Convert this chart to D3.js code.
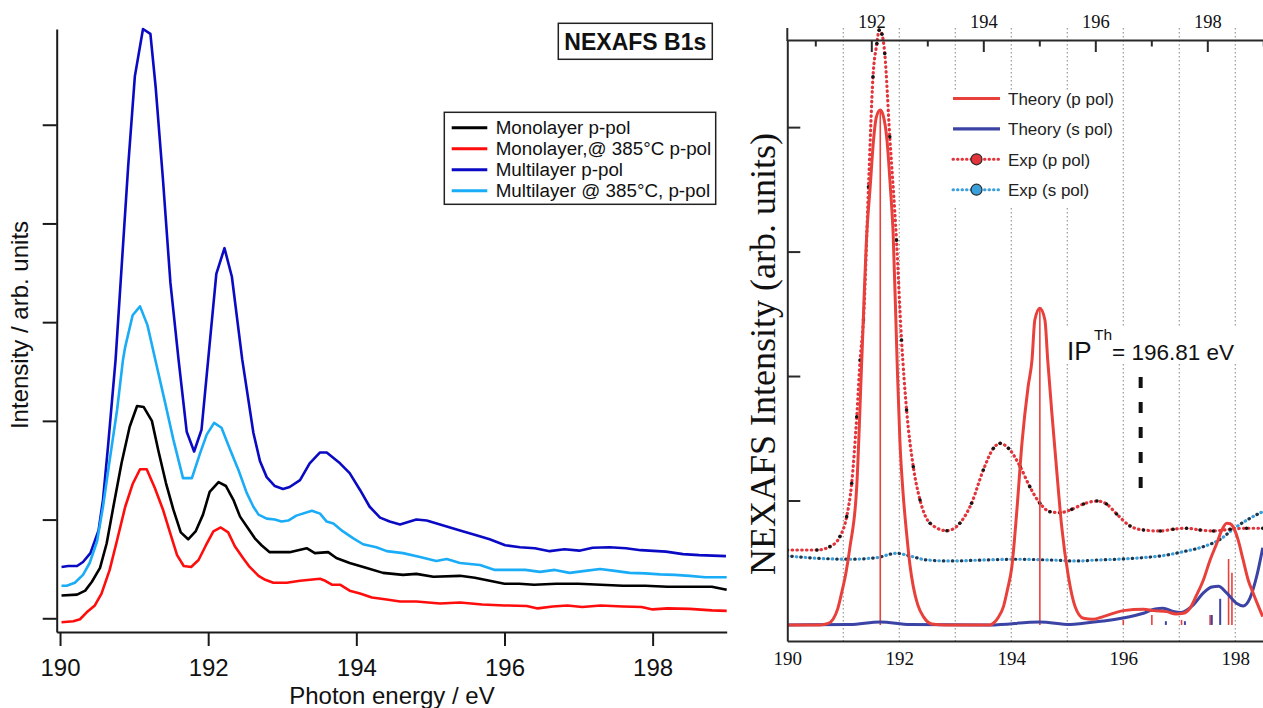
<!DOCTYPE html>
<html>
<head>
<meta charset="utf-8">
<script src="https://cdn.jsdelivr.net/npm/d3@7"></script>
<style>
  html, body { margin: 0; padding: 0; background: #fff; }
  svg { display: block; }
</style>
</head>
<body>
<svg id="chart" width="1263" height="708"></svg>
<script>
// ---------- left panel data: [photon energy (eV), intensity (arb.)] ----------
var monolayerPpol = [[190.02,0.23],[190.23,0.24],[190.34,0.28],[190.43,0.37],[190.54,0.51],[190.63,0.76],[190.72,1.13],[190.83,1.57],[190.94,1.94],[191.04,2.15],[191.13,2.14],[191.24,2.00],[191.33,1.69],[191.43,1.37],[191.53,1.10],[191.63,0.87],[191.73,0.80],[191.83,0.88],[191.93,1.05],[192.02,1.28],[192.14,1.38],[192.24,1.34],[192.34,1.20],[192.43,1.03],[192.54,0.91],[192.63,0.81],[192.72,0.74],[192.83,0.67],[193.10,0.67],[193.33,0.71],[193.44,0.66],[193.62,0.67],[193.73,0.61],[193.91,0.56],[194.14,0.51],[194.36,0.46],[194.63,0.44],[194.81,0.45],[195.04,0.42],[195.40,0.43],[195.60,0.41],[195.80,0.38],[196.00,0.35],[196.20,0.35],[196.40,0.34],[196.70,0.35],[197.00,0.35],[197.30,0.34],[197.60,0.33],[197.90,0.33],[198.20,0.32],[198.50,0.32],[198.80,0.32],[199.00,0.29]];

var monolayer385 = [[190.02,-0.04],[190.18,-0.03],[190.27,-0.01],[190.36,0.06],[190.47,0.13],[190.56,0.25],[190.67,0.49],[190.77,0.79],[190.88,1.13],[190.98,1.36],[191.08,1.51],[191.17,1.51],[191.28,1.32],[191.39,1.10],[191.48,0.88],[191.58,0.64],[191.67,0.53],[191.77,0.52],[191.87,0.59],[191.97,0.74],[192.07,0.88],[192.17,0.92],[192.27,0.87],[192.36,0.73],[192.47,0.61],[192.56,0.52],[192.68,0.43],[192.77,0.39],[192.88,0.36],[193.06,0.36],[193.24,0.38],[193.51,0.40],[193.58,0.38],[193.67,0.34],[193.78,0.34],[193.91,0.28],[194.05,0.25],[194.21,0.21],[194.41,0.19],[194.59,0.17],[194.81,0.17],[195.13,0.15],[195.40,0.16],[195.70,0.14],[196.00,0.13],[196.30,0.125],[196.45,0.10],[196.65,0.12],[196.85,0.13],[197.05,0.115],[197.30,0.13],[197.60,0.12],[197.85,0.115],[198.00,0.09],[198.20,0.10],[198.50,0.095],[198.80,0.08],[199.00,0.075]];

var multilayerPpol = [[190.02,0.52],[190.11,0.53],[190.23,0.53],[190.31,0.57],[190.41,0.66],[190.52,0.89],[190.58,1.20],[190.65,1.76],[190.75,2.62],[190.92,4.58],[191.01,5.49],[191.12,5.97],[191.22,5.92],[191.29,5.39],[191.39,4.44],[191.49,3.40],[191.60,2.62],[191.71,1.89],[191.81,1.69],[191.91,1.91],[192.00,2.62],[192.11,3.49],[192.22,3.75],[192.32,3.46],[192.46,2.62],[192.61,1.88],[192.70,1.59],[192.79,1.43],[192.90,1.34],[193.01,1.31],[193.10,1.33],[193.24,1.40],[193.37,1.57],[193.51,1.68],[193.60,1.68],[193.78,1.57],[193.91,1.47],[194.05,1.30],[194.18,1.13],[194.32,1.02],[194.45,0.98],[194.59,0.95],[194.81,1.00],[194.95,0.99],[195.13,0.95],[195.40,0.89],[195.62,0.84],[195.80,0.80],[196.01,0.74],[196.21,0.72],[196.41,0.71],[196.61,0.68],[196.81,0.70],[197.01,0.685],[197.19,0.715],[197.42,0.72],[197.64,0.71],[197.84,0.69],[198.18,0.675],[198.41,0.65],[198.63,0.64],[198.99,0.63]];

var multilayer385 = [[190.02,0.33],[190.09,0.33],[190.20,0.36],[190.31,0.44],[190.40,0.56],[190.50,0.78],[190.58,1.13],[190.67,1.60],[190.77,2.11],[190.85,2.62],[190.88,2.75],[190.98,3.07],[191.08,3.16],[191.18,2.97],[191.28,2.64],[191.42,2.18],[191.53,1.81],[191.66,1.42],[191.78,1.42],[191.89,1.67],[191.98,1.86],[192.08,1.98],[192.18,1.93],[192.29,1.72],[192.41,1.50],[192.52,1.27],[192.61,1.13],[192.68,1.05],[192.79,1.01],[192.90,1.00],[192.99,0.98],[193.08,0.99],[193.19,1.04],[193.40,1.09],[193.51,1.06],[193.60,0.98],[193.69,0.96],[193.82,0.88],[193.96,0.81],[194.09,0.75],[194.27,0.72],[194.41,0.68],[194.63,0.66],[194.86,0.62],[195.08,0.58],[195.22,0.60],[195.40,0.56],[195.67,0.54],[195.87,0.49],[196.07,0.49],[196.28,0.49],[196.48,0.47],[196.68,0.49],[196.88,0.46],[197.09,0.48],[197.29,0.50],[197.49,0.48],[197.69,0.46],[197.90,0.455],[198.10,0.445],[198.30,0.44],[198.50,0.43],[198.71,0.415],[199.00,0.415]];

var leftLabels = ['Monolayer p-pol', 'Monolayer,@ 385°C p-pol', 'Multilayer p-pol', 'Multilayer @ 385°C, p-pol'];
var leftXTicks = [190, 192, 194, 196, 198];
var leftYTicks = [0, 1, 2, 3, 4, 5];

// ---------- right panel data ----------
// theory on the upper (theory) energy scale, experiment on the lower scale
var theoryPpol = [[190.50,0],[191.08,0],[191.23,0.12],[191.32,0.48],[191.40,1.29],[191.47,2.57],[191.55,4.26],[191.62,6.29],[191.74,11.11],[191.83,21.29],[191.92,31.46],[191.98,35.2],[192.04,38.96],[192.09,40.8],[192.16,41.37],[192.22,40.8],[192.28,38.96],[192.34,35.2],[192.39,31.46],[192.46,21.29],[192.51,14.86],[192.57,10.44],[192.63,7.37],[192.69,4.82],[192.75,3.08],[192.83,1.61],[192.93,0.67],[193.08,0.08],[193.32,0],[194.12,0],[194.18,0.14],[194.26,0.56],[194.36,1.47],[194.43,2.81],[194.51,4.68],[194.60,9.24],[194.69,14.59],[194.80,19.14],[194.87,21.29],[194.92,24.5],[195.01,25.44],[195.10,24.5],[195.15,21.29],[195.22,17.27],[195.31,12.45],[195.40,7.9],[195.52,3.88],[195.64,1.47],[195.79,0.54],[195.96,0.46],[196.14,0.67],[196.50,1.15],[196.86,1.26],[197.04,1.15],[197.27,1.07],[197.44,0.88],[197.57,0.94],[197.69,1.34],[197.81,2.41],[197.93,3.61],[198.05,5.22],[198.17,6.56],[198.26,7.63],[198.35,8.17],[198.41,8.13],[198.46,7.9],[198.55,6.83],[198.64,5.22],[198.73,3.61],[198.82,2.55],[198.91,1.53],[198.99,0.67]];

var theorySpol = [[190.50,0],[191.62,0.04],[192.16,0.24],[192.69,0.04],[194.12,0],[195.01,0.24],[195.55,0.04],[195.79,0.14],[196.14,0.32],[196.50,0.56],[196.86,0.94],[197.07,1.29],[197.21,1.34],[197.39,1.08],[197.53,1.0],[197.75,1.61],[197.93,2.57],[198.08,3.05],[198.20,3.11],[198.35,2.55],[198.52,1.74],[198.64,1.53],[198.76,2.14],[198.88,3.88],[198.99,6.2]];

var expPpol = [[190.00,6.02],[190.53,6.02],[190.76,6.29],[190.94,7.1],[191.06,8.7],[191.15,11.38],[191.24,16.73],[191.30,21.29],[191.36,24.5],[191.45,35.2],[191.53,44.04],[191.60,46.72],[191.64,47.79],[191.69,47.47],[191.74,45.92],[191.83,39.22],[191.95,30.92],[192.04,22.89],[192.13,17.27],[192.25,12.71],[192.37,10.04],[192.55,8.17],[192.85,7.57],[193.08,8.17],[193.29,9.78],[193.50,12.45],[193.68,14.19],[193.80,14.59],[193.95,14.19],[194.16,12.71],[194.33,11.11],[194.51,9.78],[194.69,9.1],[194.87,9.02],[195.08,9.29],[195.29,9.72],[195.53,9.96],[195.70,9.72],[195.88,8.92],[196.12,7.95],[196.36,7.63],[196.66,7.55],[196.89,7.69],[197.13,7.77],[197.37,7.63],[197.61,7.55],[197.91,7.69],[198.20,7.77],[198.49,7.77]];

var expSpol = [[190.00,5.54],[190.53,5.36],[191.12,5.28],[191.60,5.41],[191.95,5.76],[192.19,5.54],[192.49,5.22],[192.91,5.14],[193.50,5.22],[194.10,5.28],[194.69,5.22],[195.17,5.14],[195.53,5.22],[195.88,5.28],[196.36,5.41],[196.78,5.62],[197.07,5.89],[197.43,6.29],[197.73,6.88],[197.96,7.69],[198.26,8.57],[198.49,9.1]];

var theoryPsticks = [[192.16,41.4],[195.01,25.5],[196.50,0.4],[197.01,0.8],[197.54,0.4],[198.05,0.8],[198.38,5.3],[198.44,4.2]];
var theorySsticks = [[197.26,0.3],[197.60,0.3],[198.08,0.8],[198.23,2.1]];

var ipTheory = 196.81;
var rightLabels = ['Theory (p pol)', 'Theory (s pol)', 'Exp (p pol)', 'Exp (s pol)'];
var bottomTicks = [190, 192, 194, 196, 198];
var topMajorTicks = [192, 194, 196, 198];
var topMinorTicks = [191, 193, 195, 197, 199];
var gridValues = [191, 192, 193, 194, 195, 196, 197, 198];
var rightYTicks = [10, 20, 30, 40];

var SANS = '"Liberation Sans", Arial, sans-serif';
var SERIF = '"Liberation Serif", "Times New Roman", serif';

var svg = d3.select('#chart');

/* ===================== left panel ===================== */
var xL = d3.scaleLinear().domain([189.955, 199]).range([56.7, 726.7]);
var yL = d3.scaleLinear().domain([-0.139, 5.97]).range([632, 29]);

var left = svg.append('g').attr('font-family', SANS);

var leftSeries = [
    {label: leftLabels[0], color: '#000000', data: monolayerPpol},
    {label: leftLabels[1], color: '#ff0d0d', data: monolayer385},
    {label: leftLabels[2], color: '#0a0ac4', data: multilayerPpol},
    {label: leftLabels[3], color: '#1aacf6', data: multilayer385}
];

var lineL = d3.line()
    .x(function(d) { return xL(d[0]); })
    .y(function(d) { return yL(d[1]); });

left.selectAll('path.series')
    .data(leftSeries)
    .enter()
    .append('path')
    .attr('class', 'series')
    .attr('fill', 'none')
    .attr('stroke', function(d) { return d.color; })
    .attr('stroke-width', 2.6)
    .attr('stroke-linejoin', 'round')
    .attr('d', function(d) { return lineL(d.data); });

var xAxisL = left.append('g')
    .attr('transform', 'translate(0,632)')
    .call(d3.axisBottom(xL).tickValues(leftXTicks).tickSizeInner(14).tickSizeOuter(0).tickPadding(13));

var yAxisL = left.append('g')
    .attr('transform', 'translate(56.7,0)')
    .call(d3.axisLeft(yL).tickValues(leftYTicks).tickSizeInner(14).tickSizeOuter(0).tickFormat(''));

[xAxisL, yAxisL].forEach(function(ax) {
    ax.attr('font-family', SANS).attr('font-size', 24);
    ax.select('.domain').attr('stroke', '#1a1a1a').attr('stroke-width', 2);
    ax.selectAll('.tick line').attr('stroke', '#1a1a1a').attr('stroke-width', 2);
    ax.selectAll('.tick text').attr('fill', '#111');
});

left.append('text')
    .attr('x', 392).attr('y', 704)
    .attr('text-anchor', 'middle')
    .attr('font-size', 24)
    .attr('fill', '#111')
    .text('Photon energy / eV');

left.append('text')
    .attr('transform', 'translate(28,325) rotate(-90)')
    .attr('text-anchor', 'middle')
    .attr('font-size', 24)
    .attr('fill', '#111')
    .text('Intensity / arb. units');

// title box
left.append('rect')
    .attr('x', 558.3).attr('y', 23.3).attr('width', 154).attr('height', 36)
    .attr('fill', '#fff').attr('stroke', '#222').attr('stroke-width', 1.5);
left.append('text')
    .attr('x', 635.3).attr('y', 50)
    .attr('text-anchor', 'middle')
    .attr('font-size', 23).attr('font-weight', 'bold')
    .attr('fill', '#111')
    .text('NEXAFS B1s');

// legend
var legL = left.append('g').attr('transform', 'translate(444.3,112.3)');
legL.append('rect')
    .attr('width', 271.4).attr('height', 92)
    .attr('fill', '#fff').attr('stroke', '#222').attr('stroke-width', 1.5);
var legLItems = legL.selectAll('g.item')
    .data(leftSeries)
    .enter()
    .append('g')
    .attr('class', 'item')
    .attr('transform', function(d, i) { return 'translate(0,' + (15.4 + i * 21) + ')'; });
legLItems.append('line')
    .attr('x1', 7.4).attr('x2', 43)
    .attr('stroke', function(d) { return d.color; })
    .attr('stroke-width', 3);
legLItems.append('text')
    .attr('x', 51.4).attr('y', 6.5)
    .attr('font-size', 18.8)
    .attr('fill', '#111')
    .text(function(d) { return d.label; });

/* ===================== right panel ===================== */
var xExp = d3.scaleLinear().domain([190, 198.5]).range([787.3, 1263.3]);
var xTh = d3.scaleLinear().domain([190.5, 199]).range([787.3, 1263.3]);
var yR = d3.scaleLinear().domain([-1.29, 47]).range([641, 40]);

var right = svg.append('g');

right.append('clipPath').attr('id', 'rclip')
    .append('rect')
    .attr('x', 787.3).attr('y', 0).attr('width', 480).attr('height', 641);

// dotted vertical grid
right.selectAll('line.grid')
    .data(gridValues)
    .enter()
    .append('line')
    .attr('class', 'grid')
    .attr('x1', function(d) { return xExp(d); })
    .attr('x2', function(d) { return xExp(d); })
    .attr('y1', 28).attr('y2', 641)
    .attr('stroke', '#9a9a9a')
    .attr('stroke-width', 1.2)
    .attr('stroke-dasharray', '1.5,2.5');

// white patches behind legend and IP label
right.append('rect').attr('x', 946).attr('y', 90).attr('width', 172).attr('height', 118).attr('fill', '#fff');
right.append('rect').attr('x', 1062).attr('y', 326).attr('width', 185).attr('height', 38).attr('fill', '#fff');

var plot = right.append('g').attr('clip-path', 'url(#rclip)');

var lineExp = d3.line()
    .x(function(d) { return xExp(d[0]); })
    .y(function(d) { return yR(d[1]); })
    .curve(d3.curveMonotoneX);
var lineTh = d3.line()
    .x(function(d) { return xTh(d[0]); })
    .y(function(d) { return yR(d[1]); })
    .curve(d3.curveMonotoneX);

// experiment, s polarisation: alternating light-blue / dark dots
plot.append('path')
    .attr('d', lineExp(expSpol))
    .attr('fill', 'none').attr('stroke', '#3aa0dc').attr('stroke-width', 3.2)
    .attr('stroke-linecap', 'round').attr('stroke-dasharray', '0.5,8.5');
plot.append('path')
    .attr('d', lineExp(expSpol))
    .attr('fill', 'none').attr('stroke', '#1c3650').attr('stroke-width', 3.2)
    .attr('stroke-linecap', 'round').attr('stroke-dasharray', '0.5,8.5').attr('stroke-dashoffset', 4.5);

// experiment, p polarisation: red dots plus black data points
plot.append('path')
    .attr('d', lineExp(expPpol))
    .attr('fill', 'none').attr('stroke', '#e2343a').attr('stroke-width', 3.2)
    .attr('stroke-linecap', 'round').attr('stroke-dasharray', '0.5,4.3');
plot.selectAll('circle.expp')
    .data(expPpol)
    .enter()
    .append('circle')
    .attr('class', 'expp')
    .attr('cx', function(d) { return xExp(d[0]); })
    .attr('cy', function(d) { return yR(d[1]); })
    .attr('r', 1.8)
    .attr('fill', '#151515');

// theory sticks
plot.selectAll('line.pstick')
    .data(theoryPsticks)
    .enter()
    .append('line')
    .attr('class', 'pstick')
    .attr('x1', function(d) { return xTh(d[0]); })
    .attr('x2', function(d) { return xTh(d[0]); })
    .attr('y1', yR(0)).attr('y2', function(d) { return yR(d[1]); })
    .attr('stroke', '#e8413c').attr('stroke-width', 1.6);
plot.selectAll('line.sstick')
    .data(theorySsticks)
    .enter()
    .append('line')
    .attr('class', 'sstick')
    .attr('x1', function(d) { return xTh(d[0]); })
    .attr('x2', function(d) { return xTh(d[0]); })
    .attr('y1', yR(0)).attr('y2', function(d) { return yR(d[1]); })
    .attr('stroke', '#3b44a5').attr('stroke-width', 2);

// theory curves
plot.append('path')
    .attr('d', lineTh(theorySpol))
    .attr('fill', 'none').attr('stroke', '#3b44a5').attr('stroke-width', 3);
plot.append('path')
    .attr('d', lineTh(theoryPpol))
    .attr('fill', 'none').attr('stroke', '#e8413c').attr('stroke-width', 3);

// axes
var bottomR = right.append('g')
    .attr('transform', 'translate(0,641)')
    .call(d3.axisBottom(xExp).tickValues(bottomTicks).tickSize(0).tickPadding(10.5));
var topMajor = right.append('g')
    .attr('transform', 'translate(0,40)')
    .call(d3.axisTop(xTh).tickValues(topMajorTicks).tickSizeInner(-12).tickSizeOuter(0).tickPadding(12));
var topMinor = right.append('g')
    .attr('transform', 'translate(0,40)')
    .call(d3.axisTop(xTh).tickValues(topMinorTicks).tickSizeInner(-6.5).tickSizeOuter(0).tickFormat(''));
var leftR = right.append('g')
    .attr('transform', 'translate(787.3,0)')
    .call(d3.axisLeft(yR).tickValues(rightYTicks).tickSizeInner(-13).tickSizeOuter(0).tickFormat(''));

[bottomR, topMajor, topMinor, leftR].forEach(function(ax) {
    ax.attr('font-family', SERIF);
    ax.select('.domain').attr('stroke', '#2a2a2a').attr('stroke-width', 2);
    ax.selectAll('.tick line').attr('stroke', '#2a2a2a').attr('stroke-width', 2);
    ax.selectAll('.tick text').attr('fill', '#111');
});
bottomR.attr('font-size', 19);
topMajor.attr('font-size', 18.5);
topMinor.select('.domain').remove();

// left axis line continues a little above the top axis
right.append('line')
    .attr('x1', 787.3).attr('x2', 787.3)
    .attr('y1', 28).attr('y2', 41)
    .attr('stroke', '#2a2a2a').attr('stroke-width', 2);

right.append('text')
    .attr('transform', 'translate(775,354) rotate(-90)')
    .attr('text-anchor', 'middle')
    .attr('font-family', SERIF)
    .attr('font-size', 36)
    .attr('fill', '#111')
    .text('NEXAFS Intensity (arb. units)');

// ionisation potential marker
right.append('line')
    .attr('x1', xTh(ipTheory)).attr('x2', xTh(ipTheory))
    .attr('y1', yR(11.0)).attr('y2', yR(20.1))
    .attr('stroke', '#111').attr('stroke-width', 4)
    .attr('stroke-dasharray', '11,14');

var ipLabel = right.append('g').attr('font-family', SANS).attr('fill', '#111');
ipLabel.append('text').attr('x', 1067).attr('y', 360).attr('font-size', 26).text('IP');
ipLabel.append('text').attr('x', 1094).attr('y', 340).attr('font-size', 15.5).text('Th');
ipLabel.append('text').attr('x', 1112).attr('y', 360).attr('font-size', 22.5).text('= ' + ipTheory + ' eV');

// legend
var legendR = [
    {label: rightLabels[0], color: '#e8413c', dotted: false},
    {label: rightLabels[1], color: '#3b44a5', dotted: false},
    {label: rightLabels[2], color: '#e2343a', dotted: true},
    {label: rightLabels[3], color: '#3aa0dc', dotted: true}
];
var legRItems = right.selectAll('g.leg')
    .data(legendR)
    .enter()
    .append('g')
    .attr('class', 'leg')
    .attr('transform', function(d, i) { return 'translate(953,' + (98.5 + i * 30.4) + ')'; });
legRItems.append('line')
    .attr('x1', 0).attr('x2', 47)
    .attr('stroke', function(d) { return d.color; })
    .attr('stroke-width', function(d) { return d.dotted ? 3 : 3.2; })
    .attr('stroke-linecap', function(d) { return d.dotted ? 'round' : 'butt'; })
    .attr('stroke-dasharray', function(d) { return d.dotted ? '0.5,4' : null; });
legRItems.filter(function(d) { return d.dotted; })
    .append('circle')
    .attr('cx', 23.5).attr('r', 5.5)
    .attr('fill', function(d) { return d.color; })
    .attr('stroke', '#2a2a2a').attr('stroke-width', 1.2);
legRItems.append('text')
    .attr('x', 55).attr('y', 6.5)
    .attr('font-family', SANS)
    .attr('font-size', 17)
    .attr('fill', '#222')
    .text(function(d) { return d.label; });
</script>
</body>
</html>
